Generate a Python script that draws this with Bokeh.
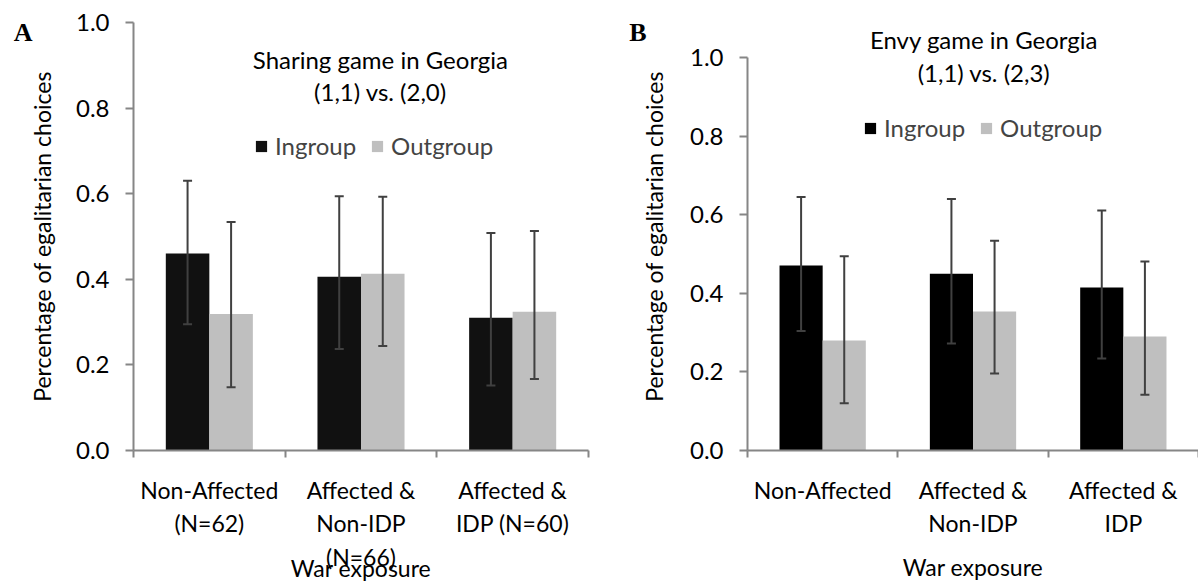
from bokeh.plotting import figure
from bokeh.models import (Range1d, FixedTicker, ColumnDataSource, Whisker, TeeHead,
                          Label, Legend, LegendItem, LinearAxis)
from bokeh.layouts import row
from bokeh.embed import file_html
from bokeh.resources import INLINE

# ---------------- data ----------------
cats_a = ["Non-Affected\n(N=62)", "Affected &\nNon-IDP\n(N=66)", "Affected &\nIDP (N=60)"]
cats_b = ["Non-Affected", "Affected &\nNon-IDP", "Affected &\nIDP"]

a_in = [0.460, 0.406, 0.310]
a_out = [0.319, 0.413, 0.324]
a_in_lo = [0.295, 0.237, 0.152]
a_in_hi = [0.630, 0.594, 0.508]
a_out_lo = [0.148, 0.244, 0.167]
a_out_hi = [0.534, 0.593, 0.513]

b_in = [0.471, 0.450, 0.415]
b_out = [0.280, 0.354, 0.290]
b_in_lo = [0.304, 0.272, 0.234]
b_in_hi = [0.645, 0.640, 0.611]
b_out_lo = [0.120, 0.196, 0.142]
b_out_hi = [0.494, 0.534, 0.481]

y_ticks = [0.0, 0.2, 0.4, 0.6, 0.8, 1.0]
y_tick_labels = ["0.0", "0.2", "0.4", "0.6", "0.8", "1.0"]

series_names = ["Ingroup", "Outgroup"]
FONT = "Lato"
FS_TICK = "24px"
FS_CAT = "23px"
FS_LAB = "23px"
FS_TITLE = "24px"
FS_LEG = "24px"
AX = "#868686"
ERR = "#404040"
OUT_C = "#bfbfbf"
BAR_W = 0.287


def panel(cats, vin, vout, inlo, inhi, outlo, outhi, in_color, width, height,
          bl, br, bt, bb, ymax, title1, title2, letter, title_x, t1y, t2y,
          letter_y, letter_standoff, legend_loc, xlab_standoff, ylab_standoff):
    n = len(cats)
    centers = [i + 0.5 for i in range(n)]
    p = figure(width=width, height=height, x_range=Range1d(0, n), y_range=Range1d(0, ymax),
               output_backend="svg", toolbar_location=None,
               min_border_left=bl, min_border_right=br, min_border_top=bt, min_border_bottom=bb,
               outline_line_color=None, background_fill_color="white", border_fill_color="white")
    p.xgrid.visible = False
    p.ygrid.visible = False

    src_in = ColumnDataSource(dict(x=[c - BAR_W / 2 for c in centers], top=vin, lo=inlo, hi=inhi))
    src_out = ColumnDataSource(dict(x=[c + BAR_W / 2 for c in centers], top=vout, lo=outlo, hi=outhi))
    r_in = p.vbar(x="x", top="top", bottom=0, width=BAR_W, source=src_in,
                  fill_color=in_color, line_color=None)
    r_out = p.vbar(x="x", top="top", bottom=0, width=BAR_W, source=src_out,
                   fill_color=OUT_C, line_color=None)

    for src in (src_in, src_out):
        w = Whisker(source=src, base="x", lower="lo", upper="hi", dimension="height",
                    line_color=ERR, line_width=2, level="overlay",
                    upper_head=TeeHead(size=9, line_color=ERR, line_width=2),
                    lower_head=TeeHead(size=9, line_color=ERR, line_width=2))
        p.add_layout(w)

    # x axis: minor ticks at group boundaries, labels at group centres
    xa = p.xaxis[0]
    xa.ticker = FixedTicker(ticks=centers, minor_ticks=list(range(n + 1)))
    xa.major_label_overrides = {c: lab for c, lab in zip(centers, cats)}
    xa.major_tick_line_color = None
    xa.major_tick_out = 0
    xa.major_tick_in = 0
    xa.minor_tick_line_color = AX
    xa.minor_tick_line_width = 2
    xa.minor_tick_out = 7
    xa.minor_tick_in = 0
    xa.axis_line_color = AX
    xa.axis_line_width = 2
    xa.major_label_text_font = FONT
    xa.major_label_text_font_size = FS_CAT
    xa.major_label_text_color = "black"
    xa.major_label_text_line_height = 1.2
    xa.major_label_standoff = 18
    xa.axis_label = "War exposure"
    xa.axis_label_text_font = FONT
    xa.axis_label_text_font_size = FS_LAB
    xa.axis_label_text_font_style = "normal"
    xa.axis_label_text_color = "black"
    xa.axis_label_standoff = xlab_standoff

    ya = p.yaxis[0]
    ya.ticker = FixedTicker(ticks=y_ticks)
    ya.bounds = (0, 1)
    ya.major_label_overrides = {t: s for t, s in zip(y_ticks, y_tick_labels)}
    ya.minor_tick_line_color = None
    ya.major_tick_out = 8
    ya.major_tick_in = 0
    ya.major_tick_line_color = AX
    ya.major_tick_line_width = 2
    ya.axis_line_color = AX
    ya.axis_line_width = 2
    ya.major_label_text_font = FONT
    ya.major_label_text_font_size = FS_TICK
    ya.major_label_text_color = "black"
    ya.major_label_standoff = 16
    ya.axis_label = "Percentage of egalitarian choices"
    ya.axis_label_text_font = FONT
    ya.axis_label_text_font_size = FS_LAB
    ya.axis_label_text_font_style = "normal"
    ya.axis_label_text_color = "black"
    ya.axis_label_standoff = ylab_standoff

    # panel letter as an outer left axis with a single label
    la = LinearAxis(ticker=FixedTicker(ticks=[letter_y]),
                    major_label_overrides={letter_y: letter},
                    axis_line_color=None, major_tick_line_color=None, minor_tick_line_color=None,
                    major_tick_out=0, major_tick_in=0, major_label_standoff=letter_standoff,
                    major_label_text_font="Liberation Serif", major_label_text_font_style="bold",
                    major_label_text_font_size="26px", major_label_text_color="black")
    p.add_layout(la, "left")

    for txt, yy in ((title1, t1y), (title2, t2y)):
        p.add_layout(Label(x=title_x, y=yy, text=txt, text_font=FONT, text_font_size=FS_TITLE,
                           text_align="center", text_baseline="alphabetic", text_color="black"))

    leg = Legend(items=[LegendItem(label=series_names[0], renderers=[r_in]),
                        LegendItem(label=series_names[1], renderers=[r_out])],
                 orientation="horizontal", location=legend_loc,
                 glyph_width=14, glyph_height=14, label_standoff=7, spacing=14,
                 padding=0, margin=0, border_line_color=None, background_fill_alpha=0,
                 label_text_font=FONT, label_text_font_size=FS_LEG, label_height=14)
    p.add_layout(leg)
    return p


pA = panel(cats_a, a_in, a_out, a_in_lo, a_in_hi, a_out_lo, a_out_hi, "#111111",
           590, 584, 133, 2, 22, 134, 1.0,
           "Sharing game in Georgia", "(1,1) vs. (2,0)", "A",
           1.628, 0.913, 0.838, 0.977, -8, (121, 290), -20, 17)
pB = panel(cats_b, b_in, b_out, b_in_lo, b_in_hi, b_out_lo, b_out_hi, "#000000",
           608, 584, 157, 0, 22, 134, 428 / 393,
           "Envy game in Georgia", "(1,1) vs. (2,3)", "B",
           1.573, 1.045, 0.961, 1.0636, -10, (116, 308), 13, 19)

layout = row(pA, pB)
open("out.html", "w").write(file_html(layout, INLINE))
